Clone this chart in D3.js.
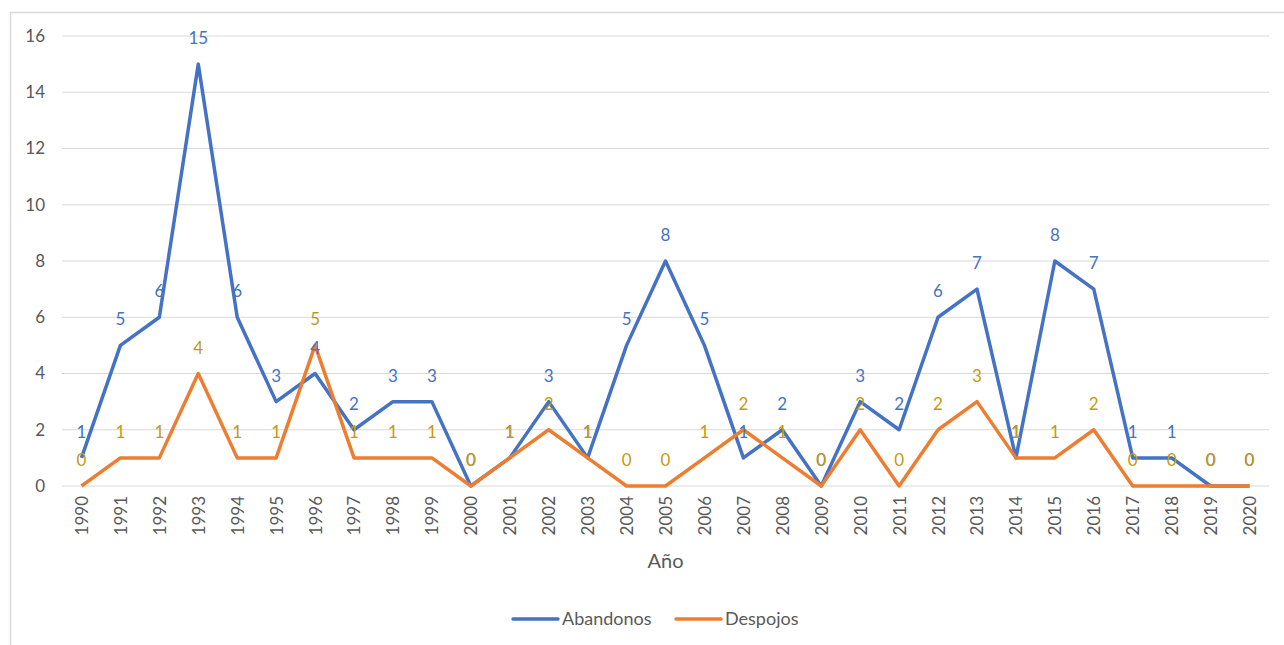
<!DOCTYPE html>
<html>
<head>
<meta charset="utf-8">
<script src="https://cdn.jsdelivr.net/npm/d3@7"></script>
<style>
  body { margin: 0; background: #fff; }
  text { font-family: Lato, "Open Sans", sans-serif; }
</style>
</head>
<body>
<svg id="chart" width="1284" height="645"></svg>
<script>
// chart data
var years = ["1990","1991","1992","1993","1994","1995","1996","1997","1998","1999",
             "2000","2001","2002","2003","2004","2005","2006","2007","2008","2009",
             "2010","2011","2012","2013","2014","2015","2016","2017","2018","2019","2020"];
var abandonos = [1,5,6,15,6,3,4,2,3,3,0,1,3,1,5,8,5,1,2,0,3,2,6,7,1,8,7,1,1,0,0];
var despojos  = [0,1,1,4,1,1,5,1,1,1,0,1,2,1,0,0,1,2,1,0,2,0,2,3,1,1,2,0,0,0,0];
var yTicks = [0,2,4,6,8,10,12,14,16];

var series = [
    { name: "Abandonos", values: abandonos, color: "#4472C4", labelColor: "#4472C4" },
    { name: "Despojos",  values: despojos,  color: "#ED7D31", labelColor: "#C49A0F" }
];

var svg = d3.select("#chart");

// outer chart frame (cut off on the right like the screenshot)
svg.append("rect")
    .attr("x", 10.5).attr("y", 12.5)
    .attr("width", 1290).attr("height", 650)
    .attr("fill", "none")
    .attr("stroke", "#d9d9d9")
    .attr("stroke-width", 1.5);

var margin = { top: 36, right: 15, bottom: 159, left: 62 },
    width = 1284 - margin.left - margin.right,
    height = 645 - margin.top - margin.bottom;

var g = svg.append("g").attr("transform", "translate(" + margin.left + "," + margin.top + ")");

var xScale = d3.scalePoint().domain(years).range([0, width]).padding(0.5);
var yScale = d3.scaleLinear().domain([0, 16]).range([height, 0]);

// horizontal gridlines
g.append("g")
    .selectAll("line")
    .data(yTicks)
    .enter().append("line")
    .attr("x1", 0).attr("x2", width)
    .attr("y1", function(d) { return yScale(d); })
    .attr("y2", function(d) { return yScale(d); })
    .attr("stroke", "#d9d9d9")
    .attr("stroke-width", 1);

// y axis labels
var yAxis = g.append("g")
    .call(d3.axisLeft(yScale).tickValues(yTicks).tickSize(0).tickPadding(17));
yAxis.select(".domain").remove();
yAxis.selectAll("text")
    .attr("fill", "#595959")
    .style("font-size", "17px");

// x axis labels, rotated
var xAxis = g.append("g")
    .attr("transform", "translate(0," + height + ")")
    .call(d3.axisBottom(xScale).tickSize(0));
xAxis.select(".domain").remove();
xAxis.selectAll("text")
    .attr("transform", "rotate(-90)")
    .attr("x", -10)
    .attr("y", 0)
    .attr("dy", "0.35em")
    .attr("text-anchor", "end")
    .attr("fill", "#595959")
    .style("font-size", "17px");

// axis title
g.append("text")
    .attr("x", xScale("2005"))
    .attr("y", height + 82)
    .attr("text-anchor", "middle")
    .attr("fill", "#595959")
    .style("font-size", "20px")
    .text("Año");

var line = d3.line()
    .x(function(d, i) { return xScale(years[i]); })
    .y(function(d) { return yScale(d); });

series.forEach(function(s) {
    g.append("path")
        .datum(s.values)
        .attr("d", line)
        .attr("fill", "none")
        .attr("stroke", s.color)
        .attr("stroke-width", 3.5)
        .attr("stroke-linejoin", "round");
});

// data labels above each point
series.forEach(function(s) {
    g.append("g")
        .selectAll("text")
        .data(s.values)
        .enter().append("text")
        .attr("x", function(d, i) { return xScale(years[i]); })
        .attr("y", function(d) { return yScale(d) - 20; })
        .attr("text-anchor", "middle")
        .attr("fill", s.labelColor)
        .style("font-size", "17px")
        .text(function(d) { return d; });
});

// legend
var legend = svg.append("g").attr("transform", "translate(513,619)");
var legendX = [0, 163];
series.forEach(function(s, i) {
    var item = legend.append("g").attr("transform", "translate(" + legendX[i] + ",0)");
    item.append("line")
        .attr("x1", 0).attr("x2", 45)
        .attr("stroke", s.color)
        .attr("stroke-width", 3.5)
        .attr("stroke-linecap", "round");
    item.append("text")
        .attr("x", 49)
        .attr("dy", "0.35em")
        .attr("fill", "#595959")
        .style("font-size", "18px")
        .text(s.name);
});
</script>
</body>
</html>
